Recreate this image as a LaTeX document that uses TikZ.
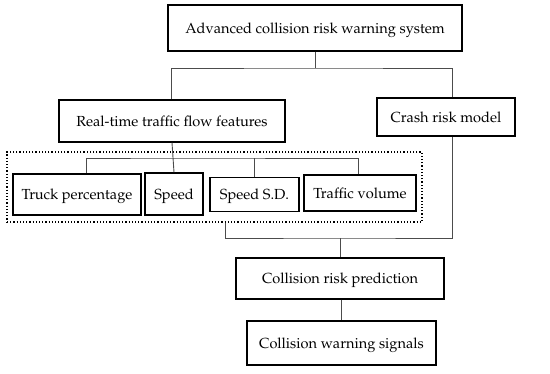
\documentclass[tikz,border=0pt]{standalone}
\usepackage[T1]{fontenc}
\usepackage{mathpazo}
\begin{document}
\begin{tikzpicture}[x=1pt,y=-1pt,
  box/.style={draw=black,line width=1.1pt,fill=white,inner sep=0pt,text depth=0pt,font=\fontsize{14.6}{16}\selectfont},
  conn/.style={draw=black!70,line width=0.9pt},
  group/.style={draw=black,line width=1.2pt,dotted}]
\useasboundingbox (0,0) rectangle (550,373);
\node[box,minimum width=294pt,minimum height=46pt] (top) at (315,28) {Advanced collision risk warning system};
\node[box,minimum width=226pt,minimum height=42pt] (rt) at (172,121) {Real-time traffic flow features};
\node[box,minimum width=138pt,minimum height=38pt] (cr) at (446,117) {Crash risk model};
\node[box,minimum width=128pt,minimum height=41pt] (truck) at (77,194.5) {Truck percentage};
\node[box,minimum width=58pt,minimum height=42pt] (speed) at (174,194) {Speed};
\node[box,minimum width=89pt,minimum height=34pt] (sd) at (254.5,194.7) {Speed S.D.};
\node[box,minimum width=112pt,minimum height=36pt] (tv) at (360,193) {Traffic volume};
\node[box,minimum width=208pt,minimum height=41pt] (pred) at (340,278.5) {Collision risk prediction};
\node[box,minimum width=189pt,minimum height=44pt] (warn) at (341.5,343) {Collision warning signals};
\node[group,minimum width=415pt,minimum height=70pt,inner sep=0pt] (grp) at (214.5,187) {};
% top tree
\coordinate (j1) at (315,68);
\draw[conn] (top.south) -- (j1);
\draw[conn] ([xshift=-1pt]rt.north) |- (j1) -| ([xshift=6pt]cr.north);
% features tree
\draw[conn] (rt.south) -- (speed.north);
\coordinate (j2) at (174,158);
\draw[conn] ([xshift=9pt]truck.north) |- (j2) -| ([xshift=-2pt]tv.north);
\draw[conn] (sd.north) -- (sd.north |- j2);
% bottom merge
\coordinate (j3) at (340,238);
\draw[conn] ([xshift=10.5pt]grp.south) |- (j3) -| ([xshift=6pt]cr.south);
\draw[conn] (j3) -- (pred.north);
\draw[conn] ([xshift=1pt]pred.south) -- ([xshift=-0.5pt]warn.north);
\end{tikzpicture}
\end{document}
